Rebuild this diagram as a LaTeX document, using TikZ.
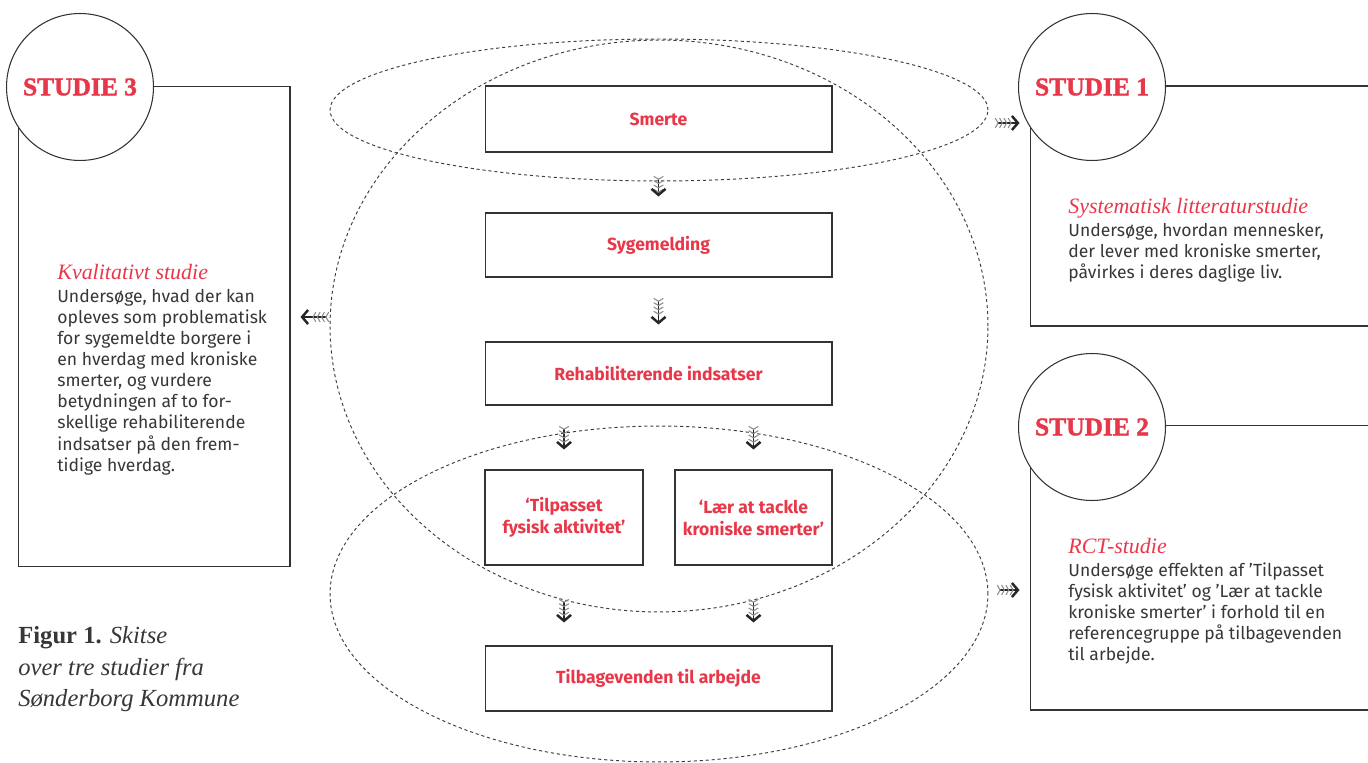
\documentclass[tikz,border=0pt]{standalone}
\usepackage{fontspec}
\setmainfont{Fira Sans}
\newfontfamily\serif{Liberation Serif}
\newfontfamily\fatserif{Liberation Serif}[BoldFeatures={FakeBold=1.6}]
\usetikzlibrary{shapes.geometric,arrows.meta}
\definecolor{studred}{RGB}{233,55,74}
\definecolor{inkgray}{RGB}{55,55,55}
\newcommand{\hd}[1]{{\serif\itshape\color{studred}\fontsize{12.5}{14}\selectfont #1}}
\begin{document}
\begin{tikzpicture}[x=0.02cm,y=-0.02cm,
  box/.style={draw=black!80,fill=white,line width=0.6pt,minimum width=6.94cm,inner sep=2pt,align=center,
    text=studred,font=\bfseries\fontsize{10}{12.5}\selectfont},
  panel/.style={draw=black!80,line width=0.6pt,inner sep=0pt},
  studie/.style={circle,draw=black!80,fill=white,line width=0.6pt,minimum size=2.94cm,inner sep=0pt,
    text=studred,font=\fatserif\bfseries\fontsize{14.5}{16}\selectfont},
  ring/.style={ellipse,draw=black!75,line width=0.55pt,dash pattern=on 1.8pt off 1.6pt,inner sep=0pt,minimum width=13.16cm},
  txt/.style={anchor=north west,inner sep=0pt,align=left,text=inkgray,font=\fontsize{10}{12}\selectfont},
  feather/.tip={Straight Barb[reversed,length=1.6pt,width=5.5pt,line width=0.6pt,black!45,sep=0.2pt]},
  fletch/.style={line width=0.7pt,black!85,
    {feather[]feather[]feather[]feather[]}-{Straight Barb[length=3.4pt,width=8pt,line width=1.4pt]}}]
\useasboundingbox (0,0) rectangle (1368,763);
\node[ring,minimum height=2.84cm] (topell) at (659,110) {};
\node[ring,minimum height=11.44cm] (bigell) at (659,326) {};
\node[ring,minimum height=6.72cm] (botell) at (659,594) {};
\node[box,minimum height=1.32cm] (smerte) at (658.5,119) {Smerte};
\node[box,minimum height=1.28cm] (sygemelding) at (658.5,245) {Sygemelding};
\node[box,minimum height=1.26cm] (rehab) at (658.5,373.5) {Rehabiliterende indsatser};
\node[box,minimum width=3.16cm,minimum height=1.9cm] (tilpasset) at (564,517.5) {`Tilpasset\\fysisk aktivitet'};
\node[box,minimum width=3.14cm,minimum height=1.9cm] (laer) at (753.5,517.5) {`Lær at tackle\\kroniske smerter'};
\node[box,minimum height=1.3cm] (tilbage) at (658.5,678.5) {Tilbagevenden til arbejde};
\node[panel,minimum width=5.44cm,minimum height=9.62cm] (panel3) at (154,326.5) {};
\node[panel,minimum width=7.4cm,minimum height=4.8cm] (panel1) at (1215,206) {};
\node[panel,minimum width=7.4cm,minimum height=5.7cm] (panel2) at (1215,567.5) {};
\node[studie] (circ3) at (80,87) {STUDIE 3};
\node[studie] (circ1) at (1092,87) {STUDIE 1};
\node[studie] (circ2) at (1092,427) {STUDIE 2};
\node[txt] (txt3) at (57,264) {\hd{Kvalitativt studie}\\[1pt]
Undersøge, hvad der kan\\opleves som problematisk\\for sygemeldte borgere i\\en hverdag med kroniske\\smerter, og vurdere\\betydningen af to for-\\skellige rehabiliterende\\indsatser på den frem-\\tidige hverdag.};
\node[txt] (txt1) at (1068,198) {\hd{Systematisk litteraturstudie}\\[1pt]
Undersøge, hvordan mennesker,\\der lever med kroniske smerter,\\påvirkes i deres daglige liv.};
\node[txt] (txt2) at (1068,538) {\hd{RCT-studie}\\[1pt]
Undersøge effekten af 'Tilpasset\\fysisk aktivitet' og 'Lær at tackle\\kroniske smerter' i forhold til en\\referencegruppe på tilbagevenden\\til arbejde.};
\node[anchor=north west,inner sep=0pt,align=left,text=inkgray,font=\serif\fontsize{14}{18}\selectfont] (caption) at (18,626)
 {\textbf{Figur 1.} \textit{Skitse}\\\textit{over tre studier fra}\\\textit{Sønderborg Kommune}};
\draw[fletch,shorten <=0.46cm,shorten >=0.32cm] (smerte.south) -- (sygemelding.north);
\draw[fletch,shorten <=0.4cm,shorten >=0.34cm] (sygemelding.south) -- (rehab.north);
\draw[fletch,shorten <=0.4cm,shorten >=0.4cm] (rehab.south -| tilpasset) -- (tilpasset.north);
\draw[fletch,shorten <=0.4cm,shorten >=0.4cm] (rehab.south -| laer) -- (laer.north);
\draw[fletch,shorten <=0.66cm,shorten >=0.46cm] (tilpasset.south) -- (tilbage.north -| tilpasset);
\draw[fletch,shorten <=0.66cm,shorten >=0.46cm] (laer.south) -- (tilbage.north -| laer);
\draw[fletch,shorten >=0.2cm] ([yshift=0.18cm]bigell.west) -- ([yshift=0.18cm]bigell.west -| panel3.east);
\draw[fletch,shorten <=0.12cm,shorten >=0.2cm] ([yshift=-0.26cm]topell.east) -- ([yshift=-0.26cm]topell.east -| panel1.west);
\draw[fletch,shorten <=0.16cm,shorten >=0.2cm] ([yshift=0.08cm]botell.east) -- ([yshift=0.08cm]botell.east -| panel2.west);
\end{tikzpicture}
\end{document}
